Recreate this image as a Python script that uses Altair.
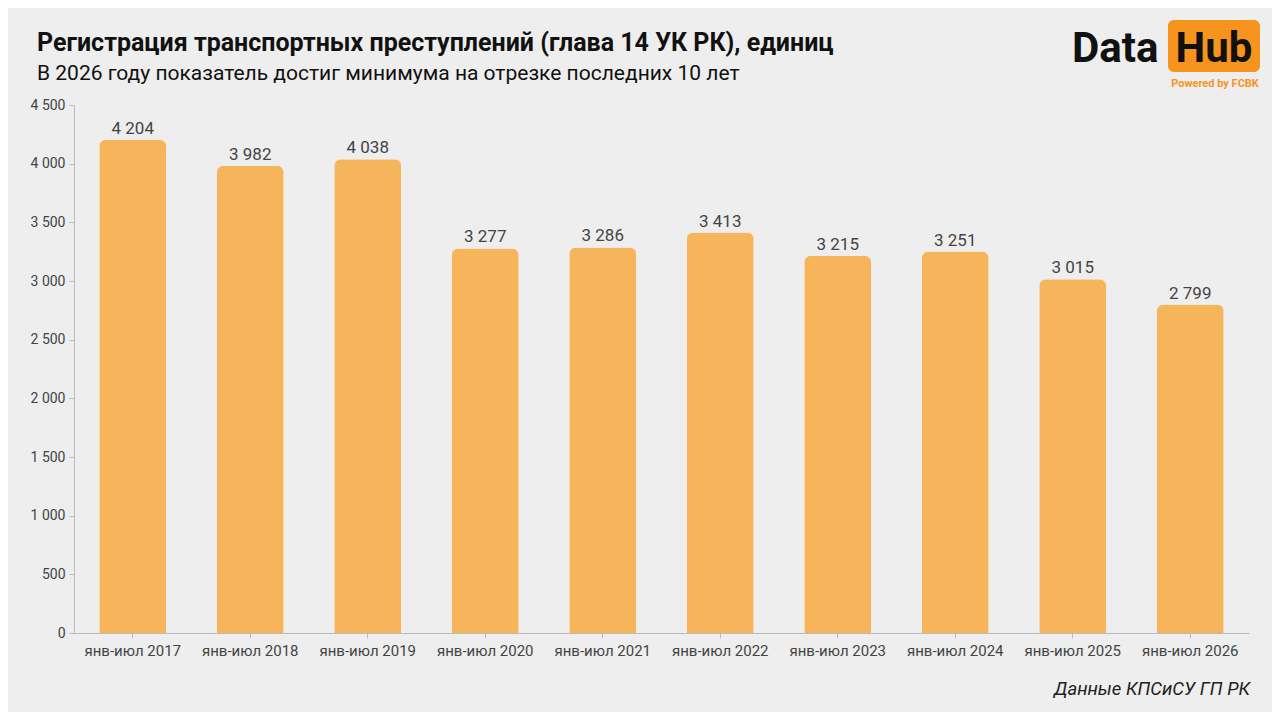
import altair as alt
import pandas as pd

periods = ["янв-июл 2017", "янв-июл 2018", "янв-июл 2019", "янв-июл 2020", "янв-июл 2021",
           "янв-июл 2022", "янв-июл 2023", "янв-июл 2024", "янв-июл 2025", "янв-июл 2026"]
values = [4204, 3982, 4038, 3277, 3286, 3413, 3215, 3251, 3015, 2799]
y_ticks = [0, 500, 1000, 1500, 2000, 2500, 3000, 3500, 4000, 4500]

title_text = "Регистрация транспортных преступлений (глава 14 УК РК), единиц"
subtitle_text = "В 2026 году показатель достиг минимума на отрезке последних 10 лет"
source_text = "Данные КПСиСУ ГП РК"

df = pd.DataFrame({"period": periods, "value": values})

FONT = "Roboto"
BAR = "#F6B55A"
W, H = 1175, 528

x = alt.X("period:N", sort=periods, title=None,
          scale=alt.Scale(paddingInner=0.43, paddingOuter=0.215),
          axis=alt.Axis(labelAngle=0, labelFontSize=15, labelColor="#444444", labelFont=FONT,
                        domainColor="#BBBBBB", tickColor="#BBBBBB", tickSize=5, labelPadding=5))
y = alt.Y("value:Q", title=None,
          scale=alt.Scale(domain=[0, 4500], nice=False),
          axis=alt.Axis(values=y_ticks, grid=False, labelFontSize=14, labelColor="#444444",
                        labelFont=FONT, domainColor="#BBBBBB", tickColor="#BBBBBB", tickSize=5,
                        labelPadding=4, labelExpr="replace(datum.label, ',', ' ')"))

base = alt.Chart(df)

bars = base.mark_bar(color=BAR, cornerRadiusTopLeft=7, cornerRadiusTopRight=7).encode(x=x, y=y)

labels = base.transform_calculate(
    lab="replace(format(datum.value, ','), ',', ' ')"
).mark_text(dy=-11, fontSize=17, color="#444444", font=FONT).encode(
    x=alt.X("period:N", sort=periods), y="value:Q", text="lab:N")

title = alt.Chart(pd.DataFrame({"t": [title_text]})).mark_text(
    align="left", baseline="alphabetic", fontSize=25, fontWeight="bold", color="#111111",
    font=FONT).encode(x=alt.value(37 - 74), y=alt.value(51 - 105), text="t:N")

sub = alt.Chart(pd.DataFrame({"t": [subtitle_text]})).mark_text(
    align="left", baseline="alphabetic", fontSize=21, color="#111111", font=FONT).encode(
    x=alt.value(37 - 74), y=alt.value(80 - 105), text="t:N")

src = alt.Chart(pd.DataFrame({"t": [source_text]})).mark_text(
    align="right", baseline="alphabetic", fontSize=18.5, fontStyle="italic", color="#222222",
    font=FONT).encode(x=alt.value(1250 - 74), y=alt.value(695 - 105), text="t:N")

# logo
logo_box = alt.Chart(pd.DataFrame({"a": [1]})).mark_rect(
    color="#F7941D", cornerRadius=6).encode(
    x=alt.value(1168 - 74), x2=alt.value(1260 - 74),
    y=alt.value(20 - 105), y2=alt.value(72 - 105))
logo_data = alt.Chart(pd.DataFrame({"t": ["Data"]})).mark_text(
    align="left", baseline="alphabetic", fontSize=42, fontWeight="bold", color="#111111",
    font=FONT).encode(x=alt.value(1072 - 74), y=alt.value(62 - 105), text="t:N")
logo_hub = alt.Chart(pd.DataFrame({"t": ["Hub"]})).mark_text(
    align="center", baseline="alphabetic", fontSize=42, fontWeight="bold", color="#111111",
    font=FONT).encode(x=alt.value(1214 - 74), y=alt.value(62 - 105), text="t:N")
logo_pw = alt.Chart(pd.DataFrame({"t": ["Powered by FCBK"]})).mark_text(
    align="center", baseline="alphabetic", fontSize=11, fontWeight="bold", color="#F7941D",
    font=FONT).encode(x=alt.value(1215 - 74), y=alt.value(87 - 105), text="t:N")

chart = alt.layer(bars, labels, title, sub, src, logo_box, logo_data, logo_hub, logo_pw).properties(
    width=W, height=H,
    autosize=alt.AutoSizeParams(type="none"),
    padding={"left": 66, "top": 97, "right": 23, "bottom": 79},
    background="#EEEEEE",
).configure_view(stroke=None)

chart.save("out.html", embed_options={"renderer": "svg", "actions": False})
